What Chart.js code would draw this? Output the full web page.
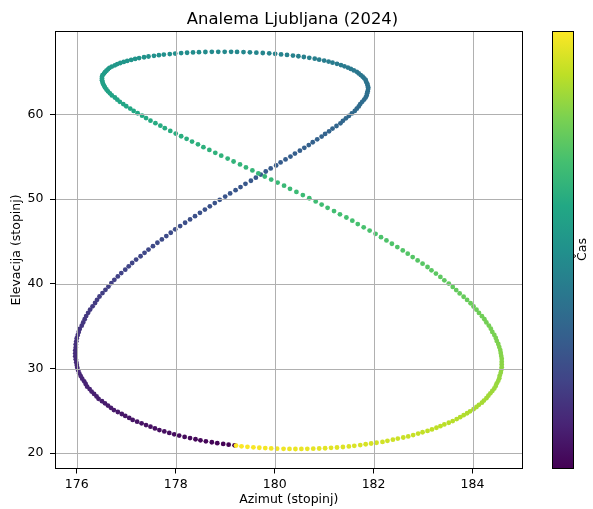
<!DOCTYPE html>
<html>
<head>
<meta charset="utf-8">
<script src="https://cdn.jsdelivr.net/npm/chart.js@4.4.1/dist/chart.umd.min.js"></script>
<style>
  html, body { margin: 0; padding: 0; background: #fff; }
</style>
</head>
<body>
<canvas id="myChart" width="593" height="509"></canvas>
<script>
// Sun position at noon, one point per day of 2024 (Jan 1 .. Dec 31)
let azimuth = [
  179.19, 179.07, 178.96, 178.84, 178.73, 178.61, 178.50, 178.40, 178.29, 178.18,
  178.07, 177.97, 177.87, 177.77, 177.67, 177.58, 177.49, 177.40, 177.31, 177.22,
  177.13, 177.06, 176.98, 176.91, 176.83, 176.75, 176.69, 176.63, 176.57, 176.51,
  176.44, 176.40, 176.35, 176.30, 176.26, 176.21, 176.18, 176.15, 176.11, 176.08,
  176.05, 176.03, 176.01, 176.00, 175.99, 175.98, 175.97, 175.97, 175.97, 175.98,
  175.98, 175.99, 176.00, 176.02, 176.04, 176.06, 176.10, 176.13, 176.16, 176.19,
  176.23, 176.27, 176.32, 176.37, 176.41, 176.46, 176.52, 176.58, 176.64, 176.70,
  176.76, 176.83, 176.90, 176.98, 177.05, 177.12, 177.20, 177.29, 177.37, 177.45,
  177.54, 177.63, 177.72, 177.81, 177.90, 177.99, 178.09, 178.19, 178.29, 178.39,
  178.49, 178.59, 178.69, 178.79, 178.89, 179.00, 179.10, 179.21, 179.31, 179.41,
  179.52, 179.62, 179.72, 179.82, 179.92, 180.03, 180.12, 180.22, 180.32, 180.41,
  180.51, 180.60, 180.69, 180.77, 180.86, 180.95, 181.02, 181.10, 181.17, 181.25,
  181.33, 181.38, 181.44, 181.50, 181.56, 181.62, 181.66, 181.70, 181.73, 181.77,
  181.81, 181.84, 181.86, 181.87, 181.88, 181.89, 181.89, 181.88, 181.87, 181.85,
  181.84, 181.81, 181.78, 181.74, 181.70, 181.66, 181.60, 181.54, 181.48, 181.41,
  181.34, 181.26, 181.17, 181.09, 181.00, 180.90, 180.81, 180.70, 180.59, 180.48,
  180.37, 180.25, 180.13, 180.01, 179.89, 179.76, 179.63, 179.50, 179.37, 179.24,
  179.12, 178.99, 178.86, 178.73, 178.60, 178.47, 178.35, 178.23, 178.11, 177.99,
  177.88, 177.76, 177.66, 177.56, 177.45, 177.36, 177.26, 177.18, 177.10, 177.02,
  176.95, 176.88, 176.82, 176.77, 176.71, 176.66, 176.63, 176.60, 176.57, 176.55,
  176.52, 176.51, 176.51, 176.51, 176.52, 176.53, 176.55, 176.57, 176.60, 176.63,
  176.67, 176.71, 176.77, 176.82, 176.87, 176.94, 177.00, 177.08, 177.15, 177.23,
  177.32, 177.40, 177.49, 177.59, 177.69, 177.78, 177.89, 178.00, 178.11, 178.22,
  178.33, 178.45, 178.56, 178.68, 178.80, 178.92, 179.05, 179.17, 179.30, 179.42,
  179.55, 179.67, 179.80, 179.93, 180.06, 180.19, 180.31, 180.44, 180.57, 180.70,
  180.83, 180.95, 181.07, 181.20, 181.32, 181.45, 181.57, 181.68, 181.80, 181.92,
  182.04, 182.15, 182.26, 182.37, 182.48, 182.59, 182.69, 182.79, 182.89, 182.99,
  183.09, 183.17, 183.26, 183.35, 183.43, 183.52, 183.60, 183.67, 183.74, 183.82,
  183.89, 183.96, 184.02, 184.08, 184.13, 184.19, 184.24, 184.28, 184.33, 184.37,
  184.40, 184.44, 184.47, 184.49, 184.52, 184.54, 184.56, 184.57, 184.58, 184.59,
  184.59, 184.59, 184.59, 184.58, 184.57, 184.55, 184.54, 184.52, 184.49, 184.47,
  184.44, 184.40, 184.36, 184.32, 184.28, 184.23, 184.19, 184.13, 184.08, 184.02,
  183.95, 183.89, 183.82, 183.75, 183.68, 183.60, 183.52, 183.43, 183.35, 183.27,
  183.18, 183.09, 182.99, 182.90, 182.80, 182.70, 182.60, 182.49, 182.39, 182.28,
  182.18, 182.06, 181.95, 181.84, 181.73, 181.61, 181.50, 181.38, 181.26, 181.14,
  181.02, 180.90, 180.78, 180.66, 180.54, 180.42, 180.30, 180.18, 180.05, 179.93,
  179.81, 179.69, 179.57, 179.45, 179.33, 179.22
];

let elevation = [
  20.93, 21.01, 21.10, 21.19, 21.30, 21.41, 21.53, 21.65, 21.79, 21.93,
  22.08, 22.23, 22.40, 22.57, 22.74, 22.93, 23.13, 23.33, 23.53, 23.73,
  23.93, 24.17, 24.40, 24.63, 24.87, 25.10, 25.36, 25.63, 25.89, 26.15,
  26.42, 26.71, 27.00, 27.28, 27.57, 27.86, 28.17, 28.49, 28.80, 29.11,
  29.43, 29.76, 30.09, 30.42, 30.75, 31.08, 31.44, 31.79, 32.14, 32.49,
  32.85, 33.21, 33.58, 33.94, 34.31, 34.67, 35.05, 35.43, 35.81, 36.19,
  36.57, 36.95, 37.34, 37.73, 38.11, 38.50, 38.90, 39.29, 39.68, 40.08,
  40.47, 40.87, 41.26, 41.66, 42.06, 42.45, 42.85, 43.25, 43.65, 44.04,
  44.44, 44.84, 45.23, 45.63, 46.02, 46.42, 46.81, 47.20, 47.59, 47.98,
  48.37, 48.76, 49.14, 49.52, 49.91, 50.29, 50.66, 51.04, 51.41, 51.79,
  52.16, 52.52, 52.88, 53.25, 53.61, 53.97, 54.32, 54.67, 55.01, 55.36,
  55.71, 56.04, 56.37, 56.70, 57.04, 57.37, 57.68, 57.99, 58.31, 58.62,
  58.93, 59.23, 59.52, 59.81, 60.10, 60.40, 60.66, 60.93, 61.20, 61.47,
  61.74, 61.99, 62.23, 62.48, 62.72, 62.97, 63.19, 63.41, 63.63, 63.84,
  64.06, 64.25, 64.44, 64.63, 64.82, 65.01, 65.18, 65.35, 65.51, 65.66,
  65.81, 65.95, 66.09, 66.22, 66.34, 66.45, 66.56, 66.66, 66.76, 66.85,
  66.93, 67.00, 67.07, 67.13, 67.19, 67.23, 67.27, 67.31, 67.34, 67.36,
  67.37, 67.37, 67.37, 67.37, 67.35, 67.33, 67.30, 67.26, 67.22, 67.17,
  67.11, 67.05, 66.98, 66.90, 66.82, 66.73, 66.63, 66.53, 66.42, 66.30,
  66.18, 66.05, 65.92, 65.78, 65.63, 65.47, 65.31, 65.14, 64.97, 64.80,
  64.61, 64.42, 64.22, 64.02, 63.81, 63.61, 63.39, 63.17, 62.94, 62.71,
  62.47, 62.23, 61.98, 61.72, 61.47, 61.21, 60.95, 60.67, 60.40, 60.12,
  59.84, 59.55, 59.25, 58.95, 58.66, 58.36, 58.04, 57.73, 57.41, 57.10,
  56.78, 56.45, 56.12, 55.79, 55.45, 55.12, 54.77, 54.43, 54.08, 53.73,
  53.38, 53.02, 52.66, 52.30, 51.94, 51.58, 51.21, 50.84, 50.47, 50.09,
  49.72, 49.34, 48.96, 48.58, 48.20, 47.82, 47.44, 47.05, 46.66, 46.28,
  45.89, 45.50, 45.11, 44.72, 44.33, 43.94, 43.55, 43.15, 42.76, 42.37,
  41.98, 41.59, 41.20, 40.81, 40.41, 40.02, 39.63, 39.25, 38.86, 38.47,
  38.09, 37.70, 37.32, 36.94, 36.56, 36.18, 35.81, 35.44, 35.07, 34.70,
  34.32, 33.96, 33.60, 33.25, 32.89, 32.53, 32.18, 31.84, 31.49, 31.15,
  30.80, 30.48, 30.15, 29.82, 29.49, 29.17, 28.86, 28.55, 28.25, 27.94,
  27.64, 27.35, 27.07, 26.79, 26.50, 26.22, 25.97, 25.71, 25.46, 25.20,
  24.95, 24.72, 24.49, 24.26, 24.03, 23.80, 23.60, 23.40, 23.20, 23.01,
  22.81, 22.64, 22.48, 22.32, 22.15, 21.99, 21.86, 21.73, 21.60, 21.47,
  21.34, 21.24, 21.15, 21.06, 20.97, 20.87, 20.80, 20.74, 20.68, 20.64,
  20.59, 20.56, 20.54, 20.52, 20.51, 20.50, 20.51, 20.52, 20.54, 20.57,
  20.61, 20.65, 20.70, 20.76, 20.82, 20.90
];

let xTicks = [176, 178, 180, 182, 184];
let yTicks = [20, 30, 40, 50, 60];

let chartTitle = "Analema Ljubljana (2024)";
let xLabel = "Azimut (stopinj)";
let yLabel = "Elevacija (stopinj)";
let cbarLabel = "Čas";

// viridis colormap, 11 stops
let viridis = ["#440154", "#482475", "#414487", "#355f8d", "#2a788e", "#21918c",
               "#22a884", "#44bf70", "#7ad151", "#bddf26", "#fde725"];

function hexToRgb(h) {
  return [parseInt(h.slice(1, 3), 16), parseInt(h.slice(3, 5), 16), parseInt(h.slice(5, 7), 16)];
}
function viridisAt(t) {
  let p = t * (viridis.length - 1);
  let i = Math.min(Math.floor(p), viridis.length - 2);
  let f = p - i;
  let a = hexToRgb(viridis[i]), b = hexToRgb(viridis[i + 1]);
  let c = a.map((v, j) => Math.round(v + (b[j] - v) * f));
  return `rgb(${c[0]},${c[1]},${c[2]})`;
}

let n = azimuth.length;
let points = azimuth.map((az, i) => ({ x: az, y: elevation[i] }));
let colors = azimuth.map((az, i) => viridisAt(i / (n - 1)));

const font = "DejaVu Sans";
const fs = 12.5;

// grid on top of the points, full frame, title and colorbar
const extras = {
  id: "extras",
  afterDatasetsDraw(chart) {
    const { ctx, chartArea: a, scales } = chart;
    ctx.save();
    ctx.strokeStyle = "#b0b0b0";
    ctx.lineWidth = 1;
    ctx.beginPath();
    xTicks.forEach((v) => {
      let px = Math.round(scales.x.getPixelForValue(v)) + 0.5;
      ctx.moveTo(px, a.top);
      ctx.lineTo(px, a.bottom);
    });
    yTicks.forEach((v) => {
      let py = Math.round(scales.y.getPixelForValue(v)) + 0.5;
      ctx.moveTo(a.left, py);
      ctx.lineTo(a.right, py);
    });
    ctx.stroke();
    // axes frame
    let x0 = Math.floor(a.left) + 0.5, x1 = Math.floor(a.right) + 0.5;
    let y0 = Math.floor(a.top) + 0.5, y1 = Math.floor(a.bottom) + 0.5;
    ctx.strokeStyle = "#000";
    ctx.strokeRect(x0, y0, x1 - x0, y1 - y0);
    ctx.restore();
  },
  afterDraw(chart) {
    const { ctx, chartArea: a } = chart;
    ctx.save();
    // title
    ctx.fillStyle = "#000";
    ctx.font = `16.4px "${font}"`;
    ctx.textAlign = "center";
    ctx.textBaseline = "alphabetic";
    ctx.fillText(chartTitle, 292.5, 23.5);
    // colorbar
    let cbLeft = 552, cbWidth = 21;
    let top = Math.floor(a.top), bottom = Math.floor(a.bottom);
    let grad = ctx.createLinearGradient(0, bottom, 0, top);
    viridis.forEach((c, i) => grad.addColorStop(i / (viridis.length - 1), c));
    ctx.fillStyle = grad;
    ctx.fillRect(cbLeft, top, cbWidth, bottom - top);
    ctx.strokeStyle = "#000";
    ctx.lineWidth = 1;
    ctx.strokeRect(cbLeft + 0.5, top + 0.5, cbWidth, bottom - top);
    // colorbar label
    ctx.translate(583, (top + bottom) / 2);
    ctx.rotate(-Math.PI / 2);
    ctx.fillStyle = "#000";
    ctx.font = `${fs}px "${font}"`;
    ctx.textAlign = "center";
    ctx.textBaseline = "middle";
    ctx.fillText(cbarLabel, 0, 0);
    ctx.restore();
  }
};

let ctx = document.getElementById("myChart").getContext("2d");
let myChart = new Chart(ctx, {
  type: "scatter",
  data: {
    datasets: [
      {
        label: chartTitle,
        data: points,
        pointBackgroundColor: colors,
        pointBorderWidth: 0,
        pointRadius: 2.4,
        pointHoverRadius: 2.4,
      },
    ],
  },
  options: {
    responsive: false,
    animation: false,
    devicePixelRatio: 1,
    layout: { padding: { top: 31.5, right: 70.5, left: 0, bottom: 0 } },
    plugins: {
      legend: { display: false },
      title: { display: false },
      tooltip: { enabled: false },
    },
    scales: {
      x: {
        type: "linear",
        min: 175.56,
        max: 185.01,
        afterBuildTicks: (s) => { s.ticks = xTicks.map((v) => ({ value: v })); },
        afterFit: (s) => { s.height = 40.5; },
        grid: { drawOnChartArea: false, drawTicks: true, tickLength: 5, tickColor: "#000", tickWidth: 1 },
        border: { display: false },
        ticks: { color: "#000", font: { family: font, size: fs }, padding: 3.5, maxRotation: 0 },
        title: { display: true, text: xLabel, color: "#000", font: { family: font, size: fs }, padding: { top: 0, bottom: 2 } },
      },
      y: {
        type: "linear",
        min: 18.2,
        max: 69.77,
        afterBuildTicks: (s) => { s.ticks = yTicks.map((v) => ({ value: v })); },
        afterFit: (s) => { s.width = 55; },
        grid: { drawOnChartArea: false, drawTicks: true, tickLength: 5, tickColor: "#000", tickWidth: 1 },
        border: { display: false },
        ticks: { color: "#000", font: { family: font, size: fs }, padding: 6.5 },
        title: { display: true, text: yLabel, color: "#000", font: { family: font, size: fs }, padding: { top: 9, bottom: 0 } },
      },
    },
  },
  plugins: [extras],
});
</script>
</body>
</html>
